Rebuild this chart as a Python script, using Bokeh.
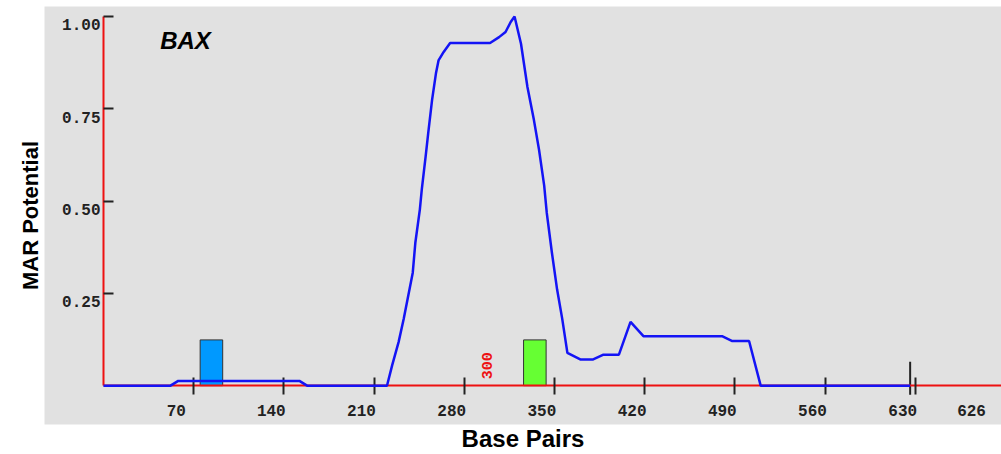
import math
from bokeh.plotting import figure
from bokeh.models import LinearAxis, FixedTicker, Range1d, ColumnDataSource
from bokeh.core.properties import value
from bokeh.embed import file_html
from bokeh.resources import INLINE

# ---- data ----
base_pairs = [0, 52, 58, 152, 158, 220, 224, 229, 233, 236, 240, 242, 245.5, 247, 250, 252,
              255, 258, 260, 264, 269, 300, 307, 312, 316, 319, 324, 329, 334, 338, 342, 344,
              348, 352, 356, 360, 370, 380, 388, 400, 409, 419, 480, 488, 501, 510, 626]
mar_potential = [0, 0, 0.013, 0.013, 0, 0, 0.055, 0.118, 0.181, 0.235, 0.306, 0.387, 0.477,
                 0.531, 0.621, 0.684, 0.774, 0.846, 0.881, 0.904, 0.928, 0.928, 0.944, 0.958,
                 0.985, 1.0, 0.926, 0.809, 0.72, 0.639, 0.542, 0.468, 0.36, 0.261, 0.181,
                 0.089, 0.071, 0.071, 0.084, 0.084, 0.173, 0.134, 0.134, 0.121, 0.121, 0, 0]

site_starts = [75, 326]
site_ends = [92.5, 343.5]
site_heights = [0.124, 0.124]
site_colors = ["#0099ff", "#66ff33"]

x_ticks = [70, 140, 210, 280, 350, 420, 490, 560, 630]
x_tick_labels = ["70", "140", "210", "280", "350", "420", "490", "560", "630"]
y_ticks = [0.25, 0.5, 0.75, 1.0]
y_tick_labels = ["0.25", "0.50", "0.75", "1.00"]
seq_length = 626
seq_label = "626"
marker_pos = 300
marker_label = "300"
gene_name = "BAX"

# ---- layout constants ----
W, H = 1001, 454
frame_left, frame_right, frame_top, frame_bottom = 44, 1001, 6, 426
x0_px, y0_px, y1_px = 103, 387, 16
px_per_bp = 90.2 / 70
px_per_unit = (y0_px - y1_px)

x_start = -(x0_px - frame_left) / px_per_bp
x_end = (frame_right - x0_px) / px_per_bp
y_start = -(frame_bottom - y0_px) / px_per_unit
y_end = 1 + (y1_px - frame_top) / px_per_unit

p = figure(width=W, height=H, output_backend="svg", toolbar_location=None,
           x_axis_type=None, y_axis_type=None,
           x_range=Range1d(x_start, x_end), y_range=Range1d(y_start, y_end),
           min_border_left=frame_left, min_border_right=0,
           min_border_top=frame_top, min_border_bottom=H - frame_bottom)
p.background_fill_color = "#e1e1e1"
p.border_fill_color = "white"
p.outline_line_color = None

axis_red = "#ee1111"
tick_col = "#222222"

# fixed x axis at y=0
xa = LinearAxis(fixed_location=0, ticker=FixedTicker(ticks=x_ticks), bounds=(0, x_end))
xa.axis_line_color = axis_red
xa.axis_line_width = 2
xa.major_tick_line_color = tick_col
xa.major_tick_line_width = 2
xa.major_tick_in = 8
xa.major_tick_out = 9
xa.minor_tick_line_color = None
xa.major_label_text_color = None
p.add_layout(xa, "below")

# fixed y axis at x=0
ya = LinearAxis(fixed_location=0, ticker=FixedTicker(ticks=y_ticks), bounds=(0, 1.0))
ya.axis_line_color = axis_red
ya.axis_line_width = 2
ya.major_tick_line_color = tick_col
ya.major_tick_line_width = 2
ya.major_tick_in = 10
ya.major_tick_out = 0
ya.minor_tick_line_color = None
ya.major_label_text_color = None
p.add_layout(ya, "left")

# title axes
xt = LinearAxis(ticker=FixedTicker(ticks=[]), axis_label="Base Pairs")
xt.axis_line_color = None
xt.major_tick_out = 0
xt.major_tick_in = 0
xt.minor_tick_line_color = None
xt.major_label_text_color = None
xt.axis_label_standoff = 0
xt.axis_label_text_font = "Liberation Sans"
xt.axis_label_text_font_style = "bold"
xt.axis_label_text_font_size = "24px"
xt.axis_label_text_color = "black"
p.add_layout(xt, "below")

yt = LinearAxis(ticker=FixedTicker(ticks=[]), axis_label="MAR Potential")
yt.axis_line_color = None
yt.major_tick_out = 0
yt.major_tick_in = 0
yt.minor_tick_line_color = None
yt.major_label_text_color = None
yt.axis_label_standoff = 2
yt.axis_label_text_font = "Liberation Sans"
yt.axis_label_text_font_style = "bold"
yt.axis_label_text_font_size = "22px"
yt.axis_label_text_color = "black"
p.add_layout(yt, "left")

# tick labels
p.text(x=x_ticks, y=[0] * len(x_ticks), text=x_tick_labels, x_offset=-27, y_offset=25,
       text_align="left", text_baseline="middle", text_font=value("Liberation Mono"),
       text_font_style="bold", text_font_size="16px", text_color="#222222")
p.text(x=[0] * len(y_ticks), y=y_ticks, text=y_tick_labels, x_offset=-3, y_offset=8.5,
       text_align="right", text_baseline="middle", text_font=value("Liberation Mono"),
       text_font_style="bold", text_font_size="16px", text_color="#222222")
p.text(x=[seq_length], y=[0], text=[seq_label], x_offset=47, y_offset=25,
       text_align="left", text_baseline="middle", text_font=value("Liberation Mono"),
       text_font_style="bold", text_font_size="16px", text_color="#222222")

# tall tick at sequence end
p.segment(x0=[seq_length], x1=[seq_length], y0=[24 / px_per_unit], y1=[-9 / px_per_unit],
          line_color=tick_col, line_width=2)

# marker text
p.text(x=[marker_pos], y=[0], text=[marker_label], x_offset=-3, y_offset=-20,
       angle=math.pi / 2, text_align="center", text_baseline="middle",
       text_font=value("Liberation Mono"), text_font_style="bold", text_font_size="15px",
       text_color="#ee1111")

# sites
p.quad(left=site_starts, right=site_ends, bottom=[0] * len(site_starts), top=site_heights,
       fill_color=site_colors, line_color="#333333", line_width=1)

# MAR line
src = ColumnDataSource(dict(x=base_pairs, y=mar_potential))
r = p.line("x", "y", source=src, line_color="#1414f5", line_width=2.5)
r.level = "overlay"

# gene name
p.text(x=[44], y=[0.935], text=[gene_name], text_align="left", text_baseline="middle",
       text_font=value("Liberation Sans"), text_font_style="bold italic",
       text_font_size="24px", text_color="black")

open("out.html", "w").write(file_html(p, INLINE))
